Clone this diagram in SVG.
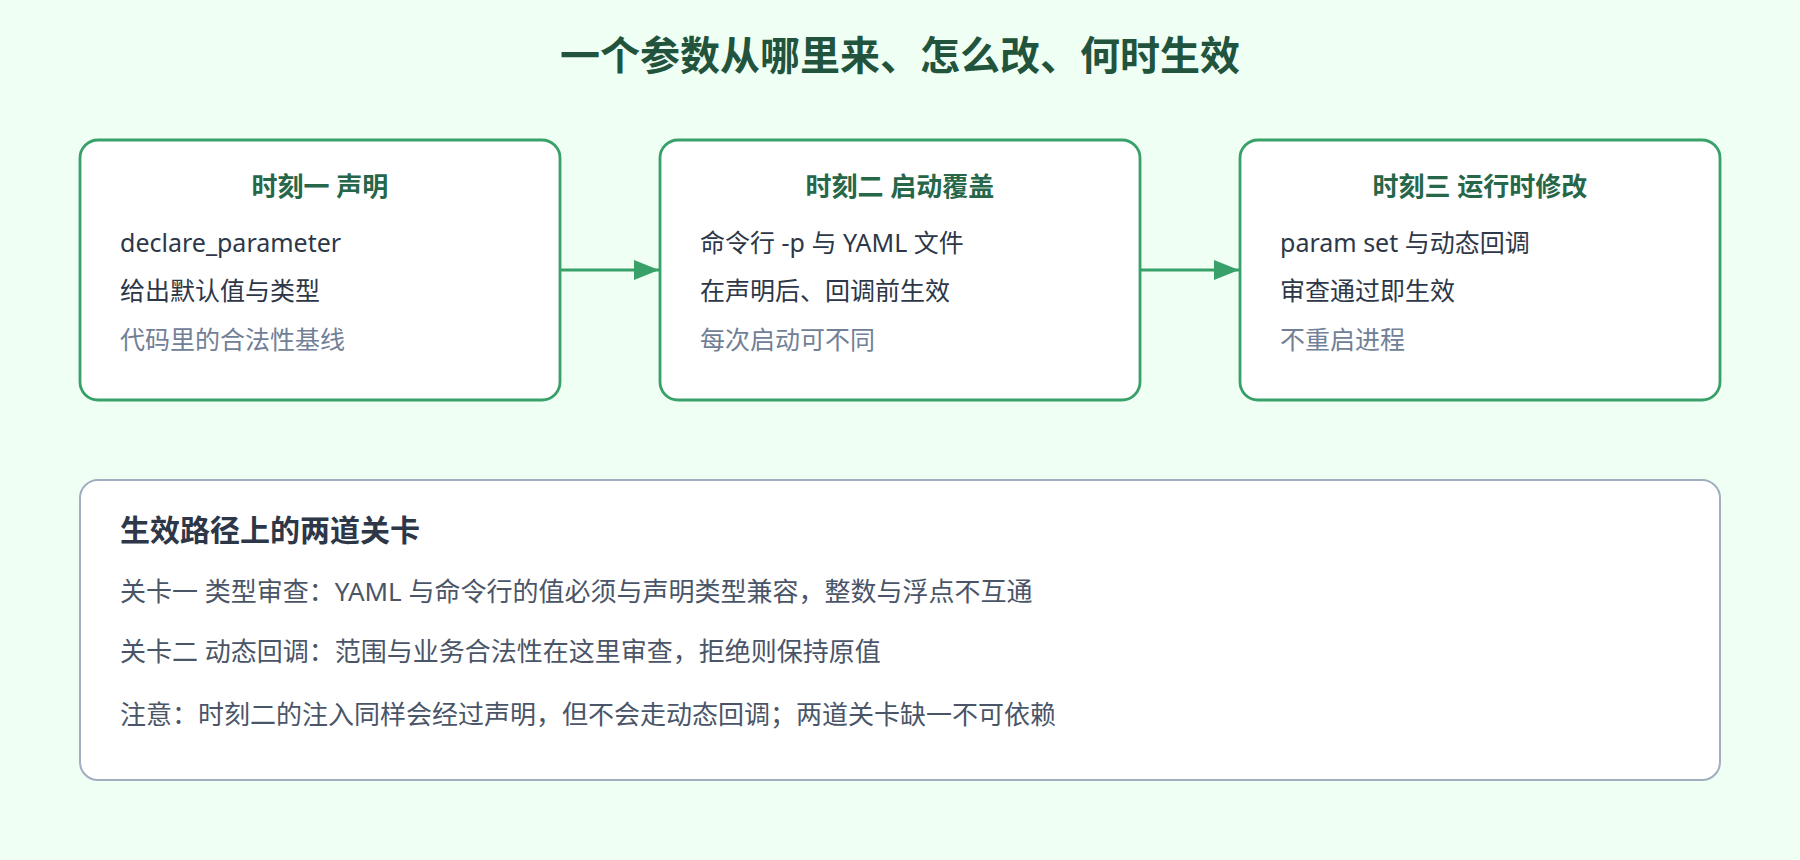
<svg xmlns="http://www.w3.org/2000/svg" width="1800" height="860" viewBox="0 0 1800 860">
<defs>
<style>
text{font-family:"Noto Sans","Noto Sans CJK SC",sans-serif}
.title{font-size:40px;font-weight:700;fill:#22543d;text-anchor:middle}
.card{fill:#ffffff;stroke:#38a169;stroke-width:2.8}
.head{font-size:26px;font-weight:700;fill:#276749;text-anchor:middle}
.body{font-size:25px;fill:#2d3748}
.muted{font-size:25px;fill:#718096}
.panel{fill:#ffffff;stroke:#a0aec0;stroke-width:2}
.ptitle{font-size:30px;font-weight:700;fill:#2d3748}
.pbody{font-size:26px;fill:#4a5568}
.conn{stroke:#38a169;stroke-width:2.8;fill:none}
</style>
<marker id="arr" viewBox="0 0 25 20" refX="25" refY="10" markerWidth="25" markerHeight="20" markerUnits="userSpaceOnUse" orient="auto">
<path d="M0,0 L25,10 L0,20 Z" fill="#38a169"/>
</marker>
</defs>
<rect width="1800" height="860" fill="#f0fff4"/>
<text class="title" x="900" y="70">一个参数从哪里来、怎么改、何时生效</text>
<g id="connectors">
<line class="conn" x1="561" y1="270" x2="659" y2="270" marker-end="url(#arr)"/>
<line class="conn" x1="1141" y1="270" x2="1239" y2="270" marker-end="url(#arr)"/>
</g>
<g id="node-declare">
<rect class="card" x="80" y="140" width="480" height="260" rx="18"/>
<text class="head" x="320" y="196">时刻一 声明</text>
<text class="body" x="120" y="252">declare_parameter</text>
<text class="body" x="120" y="300">给出默认值与类型</text>
<text class="muted" x="120" y="349">代码里的合法性基线</text>
</g>
<g id="node-launch">
<rect class="card" x="660" y="140" width="480" height="260" rx="18"/>
<text class="head" x="900" y="196">时刻二 启动覆盖</text>
<text class="body" x="700" y="252">命令行 -p 与 YAML 文件</text>
<text class="body" x="700" y="300">在声明后、回调前生效</text>
<text class="muted" x="700" y="349">每次启动可不同</text>
</g>
<g id="node-runtime">
<rect class="card" x="1240" y="140" width="480" height="260" rx="18"/>
<text class="head" x="1480" y="196">时刻三 运行时修改</text>
<text class="body" x="1280" y="252">param set 与动态回调</text>
<text class="body" x="1280" y="300">审查通过即生效</text>
<text class="muted" x="1280" y="349">不重启进程</text>
</g>
<g id="node-gates">
<rect class="panel" x="80" y="480" width="1640" height="300" rx="18"/>
<text class="ptitle" x="120" y="541">生效路径上的两道关卡</text>
<text class="pbody" x="120" y="601">关卡一 类型审查：YAML 与命令行的值必须与声明类型兼容，整数与浮点不互通</text>
<text class="pbody" x="120" y="661">关卡二 动态回调：范围与业务合法性在这里审查，拒绝则保持原值</text>
<text class="pbody" x="120" y="724">注意：时刻二的注入同样会经过声明，但不会走动态回调；两道关卡缺一不可依赖</text>
</g>
</svg>
